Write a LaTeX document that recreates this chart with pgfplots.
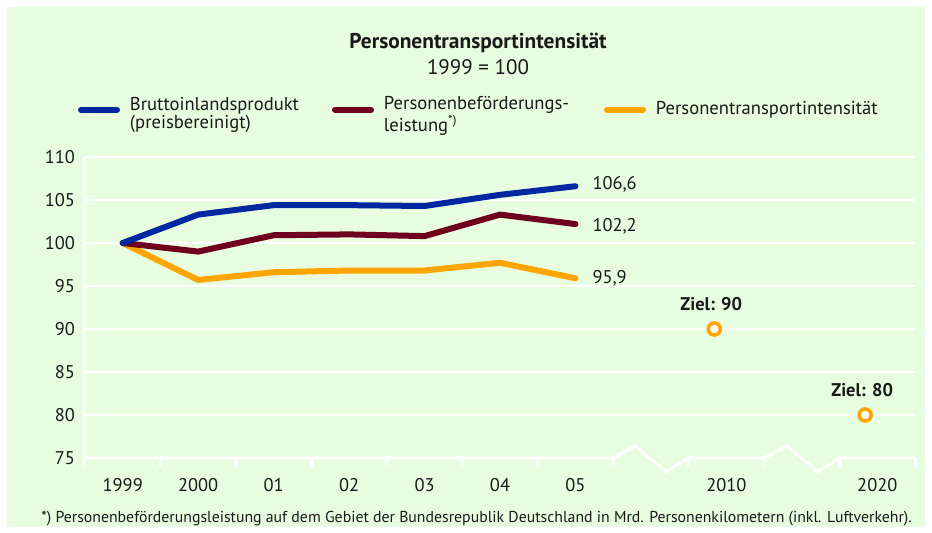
\documentclass[border=0pt]{standalone}
\usepackage{pgfplots}
\pgfplotsset{compat=1.18}
\usepackage{fontspec}
\setmainfont{PT Sans}
\definecolor{bg}{RGB}{232,253,224}
\definecolor{cblue}{RGB}{0,40,160}
\definecolor{cred}{RGB}{110,0,30}
\definecolor{corange}{RGB}{255,165,0}
\definecolor{txt}{RGB}{25,25,25}
\begin{document}
\begin{tikzpicture}
\fill[white] (0,0) rectangle (466pt,266.5pt);
\fill[bg] (3.5pt,3pt) rectangle (462.5pt,263pt);
\begin{axis}[
  at={(42.5pt,37.5pt)}, anchor=south west,
  scale only axis, width=415pt, height=150.5pt,
  xmin=-0.5, xmax=10.5, ymin=75, ymax=110,
  clip=false,
  axis line style={draw=none},
  major tick length=0pt,
  xtick={0,1,2,3,4,5,6,8,10},
  xticklabels={1999,2000,01,02,03,04,05,2010,2020},
  ytick={80,85,...,110},
  extra y ticks={75},
  extra y tick style={grid=none},
  ymajorgrids,
  grid style={white, line width=1pt},
  tick label style={font=\fontsize{9.2}{10}\selectfont, text=txt},
  /pgf/number format/assume math mode=true,
  yticklabel style={xshift=-1.5pt},
  xticklabel style={yshift=-6.5pt},
  legend columns=3,
  legend style={draw=none, fill=none, at={(axis description cs:0,1)}, anchor=south west,
    inner sep=0pt, outer sep=0pt,
    xshift=-3.5pt, yshift=16.8pt, font=\fontsize{9.3}{9}\selectfont, text=txt,
    nodes={inner sep=0pt, outer sep=0pt},
    /tikz/every odd column/.style={column sep=5pt}},
  legend image code/.code={\draw (1.5pt,0pt) -- (19.5pt,0pt);},
]
\addlegendimage{cblue, line width=3pt, line cap=round}
\addlegendentry{\parbox[c]{101pt}{\baselineskip=9pt Bruttoinlandsprodukt\\(preisbereinigt)}}
\addlegendimage{cred, line width=3pt, line cap=round}
\addlegendentry{\parbox[c]{110pt}{\baselineskip=9pt Personenbeförderungs-\\leistung\textsuperscript{*)}}}
\addlegendimage{corange, line width=3pt, line cap=round}
\addlegendentry{Personentransportintensität}

% axis decorations
\draw[white, line width=1.5pt, line join=round] (axis cs:-0.5,110) -- (axis cs:-0.5,75) -- ([yshift=-4.5pt]axis cs:-0.5,75);
\draw[white, line width=1.5pt, line join=miter] (axis cs:-0.5,75) -- (axis cs:6.5,75) -- (axis cs:6.79,76.4) -- (axis cs:7.2,73.4) -- (axis cs:7.5,75) -- (axis cs:8.5,75) -- (axis cs:8.8,76.4) -- (axis cs:9.21,73.4) -- (axis cs:9.5,75) -- (axis cs:10.5,75);
\pgfplotsinvokeforeach{0.5,1.5,2.5,3.5,4.5,5.5,6.5,7.5,8.5,9.5,10.5}{
  \draw[white, line width=1.5pt] (axis cs:#1,75) -- ([yshift=-4.5pt]axis cs:#1,75);
}

\addplot[corange, line width=3pt, line cap=round, line join=round, forget plot]
  coordinates {(0,100)(1,95.7)(2,96.6)(3,96.8)(4,96.8)(5,97.7)(6,95.9)};
\addplot[cred, line width=3pt, line cap=round, line join=round, forget plot]
  coordinates {(0,100)(1,99.0)(2,100.9)(3,101.0)(4,100.8)(5,103.3)(6,102.2)};
\addplot[cblue, line width=3pt, line cap=round, line join=round, forget plot]
  coordinates {(0,100)(1,103.3)(2,104.4)(3,104.4)(4,104.3)(5,105.6)(6,106.6)};
\addplot[only marks, mark=*, mark size=3pt, mark options={draw=corange, fill=white, line width=1.8pt}, forget plot]
  coordinates {(7.84,90)(9.84,80)};

\node[anchor=west, xshift=5pt, yshift=1pt, font=\fontsize{9.2}{10}\selectfont, text=txt] at (axis cs:6,106.6) {106,6};
\node[anchor=west, xshift=5pt, yshift=-1pt, font=\fontsize{9.2}{10}\selectfont, text=txt] at (axis cs:6,102.2) {102,2};
\node[anchor=west, xshift=5pt, font=\fontsize{9.2}{10}\selectfont, text=txt] at (axis cs:6,95.9) {95,9};
\node[yshift=12.5pt, font=\bfseries\fontsize{9.2}{10}\selectfont, text=txt] at (axis cs:7.80,90) {Ziel: 90};
\node[yshift=12.5pt, font=\bfseries\fontsize{9.2}{10}\selectfont, text=txt] at (axis cs:9.80,80) {Ziel: 80};
\end{axis}
\node[font=\bfseries\fontsize{10.7}{12}\selectfont, text=txt] at (239pt,245pt) {Personentransportintensität};
\node[font=\fontsize{10.5}{12}\selectfont, text=txt] at (239pt,233pt) {1999 = 100};
\node[anchor=west, inner sep=0pt, font=\fontsize{7.9}{9}\selectfont, text=txt] at (20.5pt,7pt) {*) Personenbeförderungsleistung auf dem Gebiet der Bundesrepublik Deutschland in Mrd. Personenkilometern (inkl. Luftverkehr).};
\end{tikzpicture}
\end{document}
